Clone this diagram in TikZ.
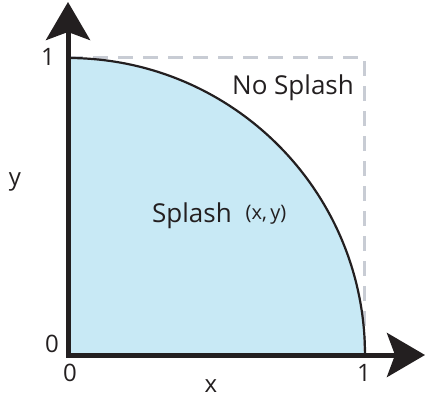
\documentclass[tikz,border=0pt]{standalone}
\usepackage{fontspec}
\setmainfont{Open Sans}
\usetikzlibrary{arrows.meta}
\definecolor{splashfill}{RGB}{200,233,245}
\definecolor{dashgray}{RGB}{200,204,212}
\definecolor{axisblack}{RGB}{35,31,32}
\tikzset{
  axisline/.style={line width=5pt, color=axisblack, line join=miter,
    arrows={Stealth[length=38pt,width=44pt,inset=8pt]-Stealth[length=38pt,width=44pt,inset=8pt]}},
  boundline/.style={line width=3pt, color=dashgray, dash pattern=on 15pt off 10pt},
  arcline/.style={line width=2.2pt, color=axisblack},
  lbl/.style={inner sep=0pt, font=\fontsize{24}{28}\selectfont, text=axisblack},
  biglbl/.style={inner sep=0pt, font=\fontsize{26}{30}\selectfont, text=axisblack, anchor=base},
  smalllbl/.style={inner sep=0pt, font=\fontsize{20}{24}\selectfont, text=axisblack, anchor=base}
}
\begin{document}
\begin{tikzpicture}[x=1pt,y=-1pt]
\useasboundingbox (0,0) rectangle (426,399);
% filled quarter disk
\fill[splashfill] (68,355) -- (68,58) arc[start angle=-90,end angle=0,radius=297] -- cycle;
% dashed unit square
\coordinate (tl) at (68,57);
\coordinate (tr) at (364,57);
\coordinate (br) at (364,355);
\draw[boundline] (tl) -- (tr) -- (br);
% arc
\draw[arcline] (68,58) arc[start angle=-90,end angle=0,radius=297];
% axes
\coordinate (xend) at (425,355);
\coordinate (orig) at (68,355);
\coordinate (yend) at (68,2);
\draw[axisline] (xend) -- (orig) -- (yend);
% labels
\node[lbl] (y1) at (48,57) {1};
\node[lbl] (y0) at (52,344) {0};
\node[lbl] (x0) at (70,373) {0};
\node[lbl] (x1) at (364,373) {1};
\node[lbl] (xl) at (211,386) {x};
\node[lbl] (yl) at (15,182) {y};
\node[biglbl] (ns) at (293,94) {No Splash};
\node[biglbl] (sp) at (192,222) {Splash};
\node[smalllbl] (xy) at (266,219) {(x,\,y)};
\end{tikzpicture}
\end{document}
